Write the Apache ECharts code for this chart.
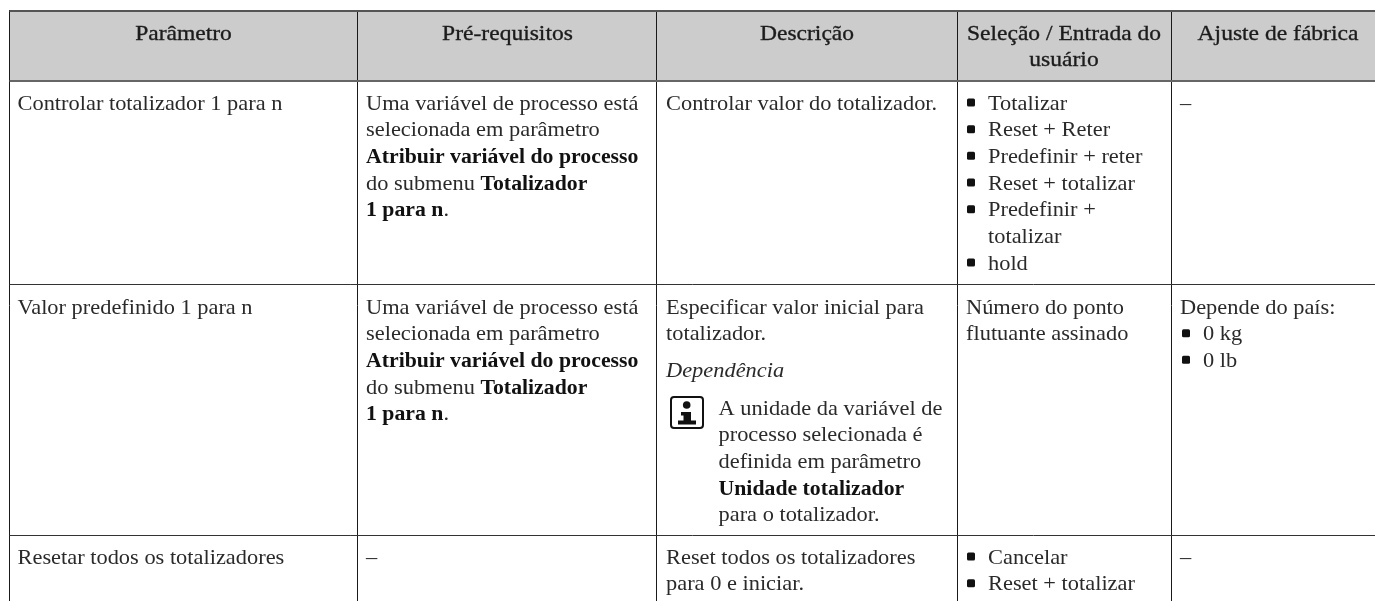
<!DOCTYPE html>
<html>
<head>
<meta charset="utf-8">
<style>
  html, body { margin: 0; padding: 0; background: #fff; }
  #main { width: 1375px; height: 601px; }
</style>
<script src="https://cdn.jsdelivr.net/npm/echarts@6/dist/echarts.min.js"></script>
</head>
<body>
<div id="main"></div>
<script>
// table content, {b|...} marks the bold runs
const headerLines = [['Parâmetro'], ['Pré-requisitos'], ['Descrição'], ['Seleção / Entrada do', 'usuário'], ['Ajuste de fábrica']]
const parameterNames = ['Controlar totalizador 1 para n', 'Valor predefinido 1 para n', 'Resetar todos os totalizadores']
const prerequisites = [
  'Uma variável de processo está',
  'selecionada em parâmetro',
  '{b|Atribuir variável do processo}',
  'do submenu {b|Totalizador}',
  '{b|1 para n}.'
]
const controlDescription = ['Controlar valor do totalizador.']
const controlOptions = ['Totalizar', 'Reset + Reter', 'Predefinir + reter', 'Reset + totalizar', 'Predefinir +', 'totalizar', 'hold']
const controlContinuation = ['totalizar']
const presetDescription = ['Especificar valor inicial para', 'totalizador.']
const presetDependency = ['Dependência']
const presetNote = ['A unidade da variável de', 'processo selecionada é', 'definida em parâmetro', '{b|Unidade totalizador}', 'para o totalizador.']
const presetSelection = ['Número do ponto', 'flutuante assinado']
const presetFactoryTitle = ['Depende do país:']
const presetFactoryOptions = ['0 kg', '0 lb']
const resetDescription = ['Reset todos os totalizadores', 'para 0 e iniciar.']
const resetOptions = ['Cancelar', 'Reset + totalizar']
const emptyCell = ['–']

// layout of the table
const colX = [9.5, 357.5, 656.5, 957.5, 1171.5]
const rightEdge = 1375
const rowY = [11, 81, 284.5, 535.5]
const pitch = 26.67
const FONT = '"Liberation Serif"'
const FONT_SIZE = 22
const BOLD_SIZE = 21.4
const TEXT_COLOR = '#2a2a2a'
const WIDTH_SCALE = 1.018
const TEXT_SHIFT = 2

const chart = echarts.init(document.getElementById('main'))
const elements = []

const addLine = (x1, y1, x2, y2, color, width) => {
  elements.push({ type: 'line', shape: { x1, y1, x2, y2 }, style: { stroke: color, lineWidth: width } })
}

const addText = (text, x, y, extra) => {
  extra = extra || {}
  elements.push({
    type: 'text',
    x,
    y: y + TEXT_SHIFT,
    scaleX: extra.scale || WIDTH_SCALE,
    style: {
      text,
      fill: extra.color || TEXT_COLOR,
      stroke: extra.heavy ? '#222' : null,
      lineWidth: extra.heavy ? 0.35 : 0,
      fontFamily: FONT,
      fontSize: FONT_SIZE,
      fontStyle: extra.italic ? 'italic' : 'normal',
      align: extra.align || 'left',
      verticalAlign: 'middle',
      rich: {
        b: { fontFamily: FONT, fontSize: BOLD_SIZE, fontWeight: 'bold', fill: '#111' }
      }
    }
  })
}

const addLines = (lines, x, y, extra) => {
  lines.forEach((line, i) => addText(line, x, y + i * pitch, extra))
}

const addBullet = (x, y) => {
  elements.push({
    type: 'rect',
    shape: { x, y: y - 4, width: 8, height: 8, r: 1.5 },
    style: { fill: '#111' }
  })
}

const addBullets = (lines, x, y, skip) => {
  lines.forEach((line, i) => {
    if (!skip || !skip.includes(line)) addBullet(x, y + i * pitch + 0.5)
    addText(line, x + 21, y + i * pitch)
  })
}

// header band
elements.push({
  type: 'rect',
  shape: { x: colX[0], y: rowY[0], width: rightEdge - colX[0], height: rowY[1] - rowY[0] },
  style: { fill: '#cccccc' }
})
const headerCenters = [183.5, 507.5, 807, 1064, 1278]
headerLines.forEach((lines, i) => {
  addLines(lines, headerCenters[i], 32, { align: 'center', heavy: true, scale: 1.07, color: '#1c1c1c' })
})

// grid
colX.forEach(x => addLine(x, rowY[0] - 1, x, 601, '#1a1a1a', 1))
addLine(colX[0], rowY[0], rightEdge, rowY[0], '#555', 2)
addLine(colX[0], rowY[1], rightEdge, rowY[1], '#666', 2)
addLine(colX[0], rowY[2], rightEdge, rowY[2], '#333', 1)
addLine(colX[0], rowY[3], rightEdge, rowY[3], '#333', 1)

// first column
const firstLineY = [102, 306, 556]
parameterNames.forEach((name, i) => addText(name, 17.5, firstLineY[i]))

// second column
addLines(prerequisites, 366, firstLineY[0])
addLines(prerequisites, 366, firstLineY[1])
addLines(emptyCell, 366, firstLineY[2])

// third column
addLines(controlDescription, 666, firstLineY[0])
addLines(presetDescription, 666, firstLineY[1])
addLines(presetDependency, 666, 369, { italic: true })
addLines(presetNote, 718.5, 407)
addLines(resetDescription, 666, firstLineY[2])

// info icon
elements.push({
  type: 'rect',
  shape: { x: 671, y: 397, width: 32, height: 31, r: 3 },
  style: { fill: '#fff', stroke: '#111', lineWidth: 2 }
})
elements.push({ type: 'circle', shape: { cx: 686.7, cy: 405, r: 3.8 }, style: { fill: '#111' } })
elements.push({
  type: 'polygon',
  shape: { points: [[681, 412], [691, 412], [691, 420.5], [696, 420.5], [696, 424.5], [678, 424.5], [678, 420.5], [683.5, 420.5], [683.5, 415.5], [681, 415.5]] },
  style: { fill: '#111' }
})

// fourth column
addBullets(controlOptions, 967, firstLineY[0], controlContinuation)
addLines(presetSelection, 966, firstLineY[1])
addBullets(resetOptions, 967, firstLineY[2])

// fifth column
addLines(emptyCell, 1180, firstLineY[0])
addLines(presetFactoryTitle, 1180, firstLineY[1])
addBullets(presetFactoryOptions, 1182, firstLineY[1] + pitch)
addLines(emptyCell, 1180, firstLineY[2])

chart.setOption({
  animation: false,
  backgroundColor: '#fff',
  graphic: { elements }
})
</script>
</body>
</html>
